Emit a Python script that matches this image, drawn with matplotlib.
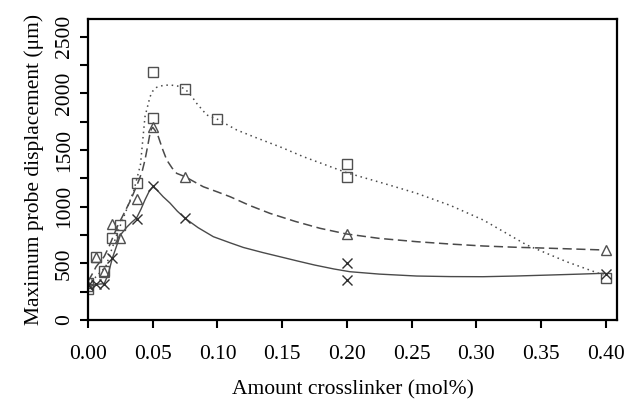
import matplotlib
matplotlib.use("Agg")
import matplotlib.pyplot as plt
from matplotlib.ticker import MultipleLocator, FuncFormatter

plt.rcParams['font.family'] = ['Liberation Serif', 'DejaVu Serif']

# ---- measured points ----
sq_x = [0, 0, 0.00625, 0.0125, 0.01875, 0.025, 0.0375, 0.05, 0.05, 0.075, 0.1, 0.2, 0.2, 0.4]
sq_y = [330, 270, 555, 435, 720, 840, 1210, 2185, 1780, 2040, 1770, 1375, 1265, 375]

tri_x = [0, 0.00625, 0.0125, 0.01875, 0.025, 0.0375, 0.05, 0.075, 0.2, 0.4]
tri_y = [300, 555, 425, 845, 720, 1070, 1700, 1265, 755, 615]

x_x = [0, 0.00625, 0.0125, 0.01875, 0.0375, 0.05, 0.075, 0.2, 0.2, 0.4]
x_y = [305, 322, 322, 545, 895, 1180, 900, 500, 350, 410]

# ---- fitted curves ----
dot_x = [0, 0.006, 0.0137, 0.0226, 0.03, 0.0355, 0.0405, 0.044, 0.0479, 0.05, 0.053,
         0.058, 0.0633, 0.069, 0.0749, 0.08, 0.0839, 0.0917, 0.1006, 0.108, 0.1148,
         0.1277, 0.15, 0.1663, 0.1997, 0.23, 0.2538, 0.28, 0.3053, 0.3388, 0.3696, 0.398]
dot_y = [300, 380, 470, 765, 980, 1147, 1370, 1794, 1970, 2020, 2053,
         2070, 2074, 2065, 2040, 1975, 1912, 1809, 1768, 1720, 1677,
         1618, 1520, 1441, 1300, 1200, 1118, 1010, 882, 662, 514, 397]

dash_x = [0, 0.003, 0.00625, 0.0125, 0.0162, 0.0226, 0.033, 0.0394, 0.042, 0.044,
          0.046, 0.0479, 0.049, 0.05, 0.052, 0.0543, 0.0575, 0.0608, 0.065, 0.0685,
          0.0749, 0.082, 0.089, 0.1, 0.1097, 0.125, 0.1405, 0.16, 0.1792, 0.1997,
          0.225, 0.2538, 0.28, 0.3053, 0.33, 0.357, 0.398]
dash_y = [340, 400, 470, 560, 647, 823, 1059, 1235, 1320, 1412,
          1530, 1647, 1685, 1700, 1670, 1618, 1510, 1412, 1340, 1294,
          1265, 1220, 1176, 1130, 1088, 1010, 941, 870, 809, 759,
          720, 691, 670, 653, 642, 633, 618]

sol_x = [0, 0.00625, 0.0125, 0.0155, 0.01875, 0.025, 0.03, 0.0335, 0.0375, 0.041,
         0.044, 0.047, 0.05, 0.053, 0.058, 0.0633, 0.069, 0.075, 0.085, 0.0968,
         0.11, 0.12, 0.135, 0.148, 0.162, 0.175, 0.19, 0.2023, 0.225, 0.2538,
         0.28, 0.305, 0.33, 0.357, 0.38, 0.398]
sol_y = [290, 315, 320, 400, 544, 750, 820, 860, 900, 980,
         1060, 1130, 1176, 1150, 1088, 1032, 960, 897, 815, 735,
         680, 640, 595, 559, 520, 485, 450, 426, 405, 388,
         383, 382, 388, 397, 405, 412]

xticks = [0.00, 0.05, 0.10, 0.15, 0.20, 0.25, 0.30, 0.35, 0.40]

fig = plt.figure(figsize=(6.24, 4.03), dpi=100)
ax = fig.add_axes([88/624, (403-320)/403, (617-88)/624, (320-19)/403])

lc = '#4a4a4a'
ax.plot(dot_x, dot_y, color=lc, lw=1.1, linestyle=(0, (1, 2.5)))
ax.plot(dash_x, dash_y, color=lc, lw=1.1, linestyle=(0, (6, 3)))
ax.plot(sol_x, sol_y, color=lc, lw=1.0, linestyle='-')

ax.plot(sq_x, sq_y, linestyle='none', marker='s', ms=7, mfc='none', mec='#505050', mew=1.0)
ax.plot(tri_x, tri_y, linestyle='none', marker='^', ms=7.5, mfc='none', mec='#505050', mew=1.0)
ax.plot(x_x, x_y, linestyle='none', marker='x', ms=7, mec='#303030', mew=1.0)

ax.set_xlim(0, 0.4085)
ax.set_ylim(0, 2656)
ax.set_xticks(xticks)
ax.set_xticklabels([f"{v:.2f}" for v in xticks])
ax.yaxis.set_major_locator(MultipleLocator(250))
ax.yaxis.set_major_formatter(FuncFormatter(lambda v, p: f"{int(v)}" if int(round(v)) % 500 == 0 else ""))

for s in ax.spines.values():
    s.set_linewidth(1.6)
ax.tick_params(direction='out', length=6, width=1.5, labelsize=15.5)
ax.tick_params(axis='x', pad=12)
for lab in ax.get_yticklabels():
    lab.set_rotation(90)
    lab.set_va('center')
ax.tick_params(axis='y', pad=4)

ax.set_xlabel("Amount crosslinker (mol%)", fontsize=15.5, labelpad=12)
ax.set_ylabel("Maximum probe displacement (μm)", fontsize=15.5, labelpad=8)

fig.savefig("out.png", dpi=100)
